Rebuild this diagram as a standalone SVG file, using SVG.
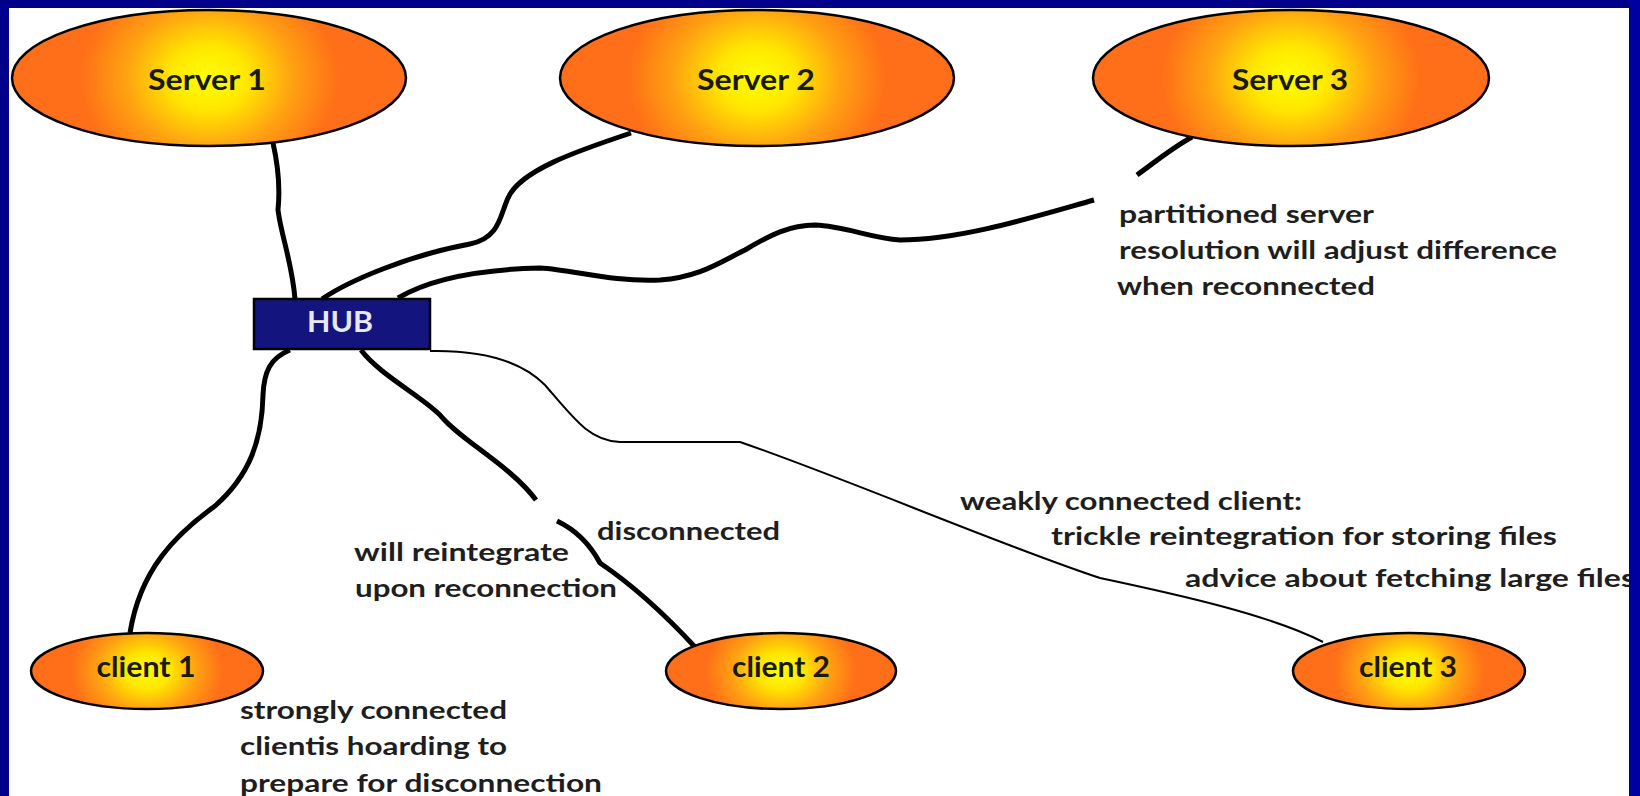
<svg xmlns="http://www.w3.org/2000/svg" width="1640" height="796" viewBox="0 0 1640 796">
<defs>
<radialGradient id="glow" cx="0.5" cy="0.5" r="0.5" gradientTransform="translate(0.5 0.5) scale(0.66 1.6) translate(-0.5 -0.5)">
<stop offset="0" stop-color="#FFFF00"/>
<stop offset="0.3" stop-color="#FFE600"/>
<stop offset="0.65" stop-color="#FFA012"/>
<stop offset="1" stop-color="#FF6E18"/>
</radialGradient>
<style>
.node{fill:url(#glow);stroke:#000;stroke-width:2.5}
.lbl{font-family:Lato,"Liberation Sans",sans-serif;font-weight:700;font-size:28px;fill:#1a1a00;text-anchor:middle}
.note{font-family:Lato,"Liberation Sans",sans-serif;font-weight:700;font-size:25px;fill:#1e1e1e}
.thick{fill:none;stroke:#000;stroke-width:5;stroke-linecap:butt;stroke-linejoin:round}
.thin{fill:none;stroke:#000;stroke-width:2}
</style>
</defs>
<rect x="0" y="0" width="1640" height="796" fill="#FFFFFF"/>
<g id="connectors">
<path class="thick" d="M273 143 C278 165 280 190 278 210 C281 235 292 262 295 299"/>
<path class="thick" d="M322 299 C350 280 410 255 470 244 C500 238 500 215 508 198 C520 170 580 150 631 133"/>
<path class="thick" d="M398 298 C420 285 460 270 540 268 C575 270 610 282 660 280 C700 277 720 262 745 250 C770 235 790 225 815 225 C845 226 870 238 900 240 C960 240 1030 218 1094 200"/>
<path class="thick" d="M1137 175 C1155 162 1172 148 1192 137"/>
<path class="thick" d="M290 350 C270 358 264 372 263 395 C262 440 250 475 215 506 C175 535 140 570 130 633"/>
<path class="thick" d="M361 350 C380 375 420 395 440 415 C460 440 510 465 536 500"/>
<path class="thick" d="M557 521 C580 532 592 548 600 563 C640 590 670 620 695 647"/>
<path class="thin" d="M430 351 C480 350 520 360 545 385 C575 420 590 441 620 442 L740 442 C850 480 1000 545 1100 578 C1180 595 1270 615 1323 642"/>
</g>
<g id="server1">
<ellipse class="node" cx="209" cy="78" rx="197" ry="68"/>
<text class="lbl" x="207" y="90" textLength="118" lengthAdjust="spacingAndGlyphs">Server 1</text>
</g>
<g id="server2">
<ellipse class="node" cx="757" cy="78" rx="197" ry="68"/>
<text class="lbl" x="756" y="90" textLength="118" lengthAdjust="spacingAndGlyphs">Server 2</text>
</g>
<g id="server3">
<ellipse class="node" cx="1291" cy="78" rx="198" ry="68"/>
<text class="lbl" x="1290" y="90" textLength="116" lengthAdjust="spacingAndGlyphs">Server 3</text>
</g>
<g id="hub">
<rect x="254" y="299" width="176" height="50" fill="#14147E" stroke="#000" stroke-width="2.5"/>
<text x="340" y="332" font-family="Lato,'Liberation Sans',sans-serif" font-weight="700" font-size="28" fill="#E8E8F4" text-anchor="middle" textLength="66" lengthAdjust="spacingAndGlyphs">HUB</text>
</g>
<g id="client1">
<ellipse class="node" cx="147" cy="671" rx="116" ry="38"/>
<text class="lbl" x="146" y="677" textLength="99" lengthAdjust="spacingAndGlyphs">client 1</text>
</g>
<g id="client2">
<ellipse class="node" cx="781" cy="671" rx="115" ry="38"/>
<text class="lbl" x="781" y="677" textLength="98" lengthAdjust="spacingAndGlyphs">client 2</text>
</g>
<g id="client3">
<ellipse class="node" cx="1409" cy="671" rx="116" ry="38"/>
<text class="lbl" x="1408" y="677" textLength="98" lengthAdjust="spacingAndGlyphs">client 3</text>
</g>
<g id="notes">
<text class="note" x="1119" y="223" textLength="255" lengthAdjust="spacingAndGlyphs">partitioned server</text>
<text class="note" x="1119" y="259" textLength="438" lengthAdjust="spacingAndGlyphs">resolution will adjust difference</text>
<text class="note" x="1117" y="295" textLength="258" lengthAdjust="spacingAndGlyphs">when reconnected</text>
<text class="note" x="597" y="540" textLength="183" lengthAdjust="spacingAndGlyphs">disconnected</text>
<text class="note" x="354" y="561" textLength="215" lengthAdjust="spacingAndGlyphs">will reintegrate</text>
<text class="note" x="355" y="597" textLength="262" lengthAdjust="spacingAndGlyphs">upon reconnection</text>
<text class="note" x="240" y="719" textLength="267" lengthAdjust="spacingAndGlyphs">strongly connected</text>
<text class="note" x="240" y="755" textLength="267" lengthAdjust="spacingAndGlyphs">clientis hoarding to</text>
<text class="note" x="240" y="792" textLength="362" lengthAdjust="spacingAndGlyphs">prepare for disconnection</text>
<text class="note" x="960" y="510" textLength="342" lengthAdjust="spacingAndGlyphs">weakly connected client:</text>
<text class="note" x="1051" y="545" textLength="506" lengthAdjust="spacingAndGlyphs">trickle reintegration for storing files</text>
<text class="note" x="1185" y="587" textLength="450" lengthAdjust="spacingAndGlyphs">advice about fetching large files</text>
</g>
<g id="frame">
<rect x="0" y="0" width="1640" height="8" fill="#00008A"/>
<rect x="0" y="0" width="9" height="796" fill="#00008A"/>
<rect x="1629" y="0" width="11" height="796" fill="#0000A0"/>
</g>
</svg>
